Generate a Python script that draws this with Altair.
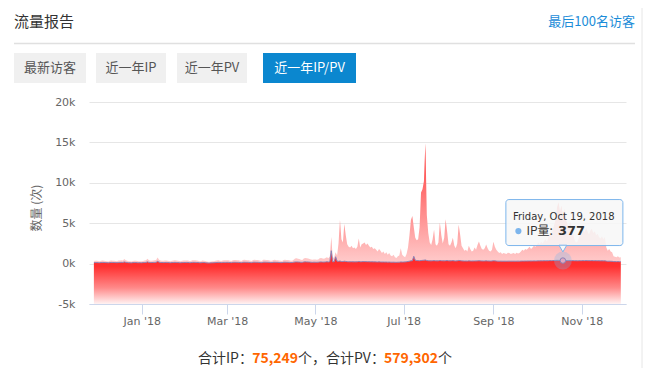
import altair as alt
import pandas as pd

# ---------------- data (daily, 2017-11-29 .. 2018-11-28) ----------------
pv_nov17 = [320, 350]
pv_dec17 = [340, 310, 280, 360, 390, 350, 330, 300, 270, 350, 380, 360, 340, 320, 300, 370,
            390, 410, 380, 560, 420, 350, 300, 280, 260, 330, 360, 340, 310, 290, 300]
pv_jan18 = [280, 330, 380, 420, 600, 410, 360, 350, 390, 400, 450, 750, 480, 380, 360, 340,
            370, 390, 360, 320, 300, 350, 380, 400, 370, 350, 310, 290, 340, 370, 380]
pv_feb18 = [390, 370, 330, 310, 400, 420, 410, 380, 360, 300, 290, 380, 360, 330, 250, 220,
            230, 260, 280, 300, 340, 380, 400, 360, 330, 390, 410, 400]
pv_mar18 = [420, 400, 350, 330, 430, 450, 440, 420, 400, 340, 320, 450, 470, 440, 430, 400,
            350, 330, 460, 480, 450, 440, 410, 350, 330, 470, 490, 460, 450, 420, 360]
pv_apr18 = [340, 450, 470, 430, 420, 380, 340, 330, 460, 480, 450, 440, 400, 360, 350, 480,
            620, 650, 600, 560, 480, 450, 640, 700, 660, 620, 580, 500, 470, 520]
pv_may18 = [500, 480, 520, 650, 700, 620, 600, 700, 800, 650, 900, 3300, 700, 800, 1400, 1000,
            2500, 5400, 3000, 2600, 4900, 3500, 2400, 2100, 2000, 2200, 1900, 2000, 1800, 2100, 3100]
pv_jun18 = [2000, 2400, 2500, 2600, 2300, 2500, 2200, 2000, 2100, 1800, 1900, 1700, 1500, 1800,
            1600, 1300, 1500, 1200, 1400, 1100, 1300, 1000, 900, 1100, 800, 700, 900, 1000, 1900, 1100]
pv_jul18 = [900, 800, 1200, 2000, 3500, 5400, 5900, 4500, 3200, 2900, 3000, 4500, 8800, 9200,
            10200, 14900, 6000, 3800, 2600, 2300, 3000, 4200, 2400, 2200, 2600, 5100, 3500, 2500,
            3200, 5500, 4000]
pv_aug18 = [2400, 2200, 2600, 3200, 2200, 1900, 2500, 4800, 3600, 2200, 1900, 1600, 1700, 1500,
            2200, 1800, 1500, 1600, 2000, 1700, 2300, 2750, 2200, 1800, 1700, 1900, 2350, 1900,
            1600, 1500, 1700]
pv_sep18 = [2700, 2100, 1700, 1500, 1300, 1400, 1200, 1300, 1250, 1200, 1350, 1300, 1200, 1250,
            1300, 1200, 1350, 1250, 1300, 1500, 1700, 1600, 1800, 1700, 1900, 2100, 1800, 2000,
            2200, 2100]
pv_oct18 = [2300, 2600, 2400, 2700, 2500, 2800, 3000, 2700, 3300, 3800, 3500, 4200, 4800, 5500,
            7000, 7600, 6500, 7200, 6000, 6800, 5500, 5000, 4200, 5200, 4500, 3800, 3000, 2600,
            2700, 3200, 3600]
pv_nov18 = [3800, 4200, 3900, 4400, 4000, 3600, 4100, 4300, 3800, 4000, 3500, 3700, 3300, 3100,
            3400, 3000, 3300, 2000, 1600, 1800, 1500, 1400, 900, 850, 800, 900, 750, 800]

ip_nov17 = [120, 130]
ip_dec17 = [130, 120, 110, 135, 145, 140, 130, 120, 105, 130, 145, 140, 135, 125, 115, 140,
            150, 155, 145, 210, 160, 135, 115, 105, 95, 125, 140, 130, 120, 110, 115]
ip_jan18 = [105, 125, 140, 150, 220, 150, 135, 130, 145, 150, 165, 280, 180, 140, 135, 125,
            140, 145, 135, 120, 110, 130, 140, 150, 140, 130, 115, 110, 125, 140, 140]
ip_feb18 = [145, 140, 120, 115, 150, 155, 150, 140, 135, 110, 105, 140, 135, 120, 90, 80,
            85, 95, 105, 110, 125, 140, 150, 135, 120, 145, 150, 150]
ip_mar18 = [155, 150, 130, 120, 160, 165, 160, 155, 150, 125, 120, 165, 170, 160, 160, 150,
            130, 120, 170, 175, 165, 160, 150, 130, 120, 170, 180, 170, 165, 155, 135]
ip_apr18 = [125, 165, 170, 160, 155, 140, 125, 120, 170, 175, 165, 160, 150, 130, 130, 175,
            200, 210, 195, 185, 165, 160, 205, 220, 210, 200, 190, 170, 160, 175]
ip_may18 = [170, 165, 175, 200, 210, 190, 185, 210, 230, 200, 250, 1600, 220, 240, 850, 300,
            280, 320, 260, 250, 300, 270, 240, 230, 225, 235, 220, 225, 215, 230, 260]
ip_jun18 = [230, 240, 245, 250, 235, 240, 230, 225, 230, 215, 220, 210, 200, 215, 205, 190,
            200, 185, 195, 180, 190, 175, 170, 180, 165, 160, 170, 175, 210, 190]
ip_jul18 = [200, 210, 230, 260, 300, 340, 360, 900, 420, 380, 370, 360, 380, 400, 420, 450,
            380, 360, 350, 340, 360, 370, 350, 340, 350, 380, 360, 350, 340, 360, 380]
ip_aug18 = [350, 340, 355, 370, 340, 330, 345, 390, 370, 340, 330, 320, 325, 315, 340, 330,
            320, 325, 335, 330, 340, 355, 340, 330, 325, 330, 345, 330, 320, 315, 325]
ip_sep18 = [360, 340, 320, 305, 300, 305, 295, 300, 298, 295, 300, 305, 298, 300, 302, 296,
            300, 305, 300, 310, 315, 312, 320, 318, 325, 330, 322, 328, 335, 332]
ip_oct18 = [335, 345, 340, 350, 345, 355, 360, 350, 365, 370, 365, 375, 380, 390, 400, 395,
            405, 390, 377, 395, 385, 380, 375, 380, 370, 365, 360, 355, 350, 355, 360]
ip_nov18 = [365, 370, 365, 375, 370, 360, 365, 370, 360, 365, 355, 360, 350, 345, 350, 340,
            345, 310, 290, 300, 285, 280, 250, 245, 240, 250, 235, 240]

y_ticks = [-5000, 0, 5000, 10000, 15000, 20000]
tabs = ["最新访客", "近一年IP", "近一年PV", "近一年IP/PV"]
tooltip_date = "2018-10-19"
tooltip_header = "Friday, Oct 19, 2018"
tooltip_ip = 377
total_ip = "75,249"
total_pv = "579,302"

pv = (pv_nov17 + pv_dec17 + pv_jan18 + pv_feb18 + pv_mar18 + pv_apr18 + pv_may18 +
      pv_jun18 + pv_jul18 + pv_aug18 + pv_sep18 + pv_oct18 + pv_nov18)
ip = (ip_nov17 + ip_dec17 + ip_jan18 + ip_feb18 + ip_mar18 + ip_apr18 + ip_may18 +
      ip_jun18 + ip_jul18 + ip_aug18 + ip_sep18 + ip_oct18 + ip_nov18)
dates = pd.date_range("2017-11-29", periods=len(pv), freq="D").strftime("%Y-%m-%d")
df = pd.DataFrame({"date": dates, "pv": pv, "ip": ip})
tip_df = pd.DataFrame({"date": [tooltip_date], "ip": [tooltip_ip]})

CJK = "Noto Sans CJK SC"
LAT = "DejaVu Sans"

xscale = alt.Scale(type="utc", domain=[
    alt.DateTime(year=2017, month=11, date=25, hours=14, minutes=45, utc=True),
    alt.DateTime(year=2018, month=12, date=1, hours=14, minutes=25, utc=True)])
xaxis = alt.Axis(
    values=[alt.DateTime(year=2018, month=m, date=1, utc=True) for m in (1, 3, 5, 7, 9, 11)],
    format="%b '%y", title=None, grid=False, labelColor="#666666", labelFontSize=11,
    labelFont=LAT, domainColor="#ccd6eb", tickColor="#ccd6eb", tickSize=10,
    labelPadding=1, labelFlush=False, labelOverlap=False, zindex=1)
yscale = alt.Scale(domain=[-5000, 20000], nice=False, zero=False)
yaxis = alt.Axis(values=y_ticks, labelExpr="datum.value / 1000 + 'k'", title=None,
                 domain=False, ticks=False, gridColor="#e6e6e6", labelColor="#666666",
                 labelFontSize=11, labelFont=LAT, labelPadding=14)

X = alt.X("date:T", scale=xscale, axis=xaxis, title=None)

base = alt.Chart(df)

pv_area = base.mark_area(
    interpolate="linear",
    color=alt.Gradient(gradient="linear", x1=1, x2=1, y1=0, y2=1, stops=[
        alt.GradientStop(color="#ff3535", offset=0),
        alt.GradientStop(color="#ffffff", offset=1)])
).encode(x=X, y=alt.Y("pv:Q", scale=yscale, axis=yaxis, title=None), y2=alt.datum(-5000))

ip_area = base.mark_area(
    interpolate="linear",
    color=alt.Gradient(gradient="linear", x1=1, x2=1, y1=0, y2=1, stops=[
        alt.GradientStop(color="#ff2020", offset=0),
        alt.GradientStop(color="#ff3030", offset=0.3),
        alt.GradientStop(color="#ff8a8a", offset=0.7),
        alt.GradientStop(color="#fff2f2", offset=1)])
).encode(x=X, y=alt.Y("ip:Q", scale=yscale, title=None), y2=alt.datum(-5000))

ip_line = base.mark_line(color="#8a84b8", strokeWidth=1).encode(
    x=X, y=alt.Y("ip:Q", scale=yscale, title=None))

tip = alt.Chart(tip_df)
TY = alt.Y("ip:Q", scale=yscale, title=None)
halo = tip.mark_circle(size=320, color="#7cb5ec", opacity=0.3).encode(x=X, y=TY)
marker = tip.mark_point(filled=True, size=30, fill="#e0a8c0", stroke="#8a84b8",
                        strokeWidth=1, opacity=1).encode(x=X, y=TY)
tip_box = tip.mark_rect(xOffset=-57, x2Offset=60, yOffset=-61, y2Offset=-15,
                        fill="#f7f7f7", fillOpacity=0.88, stroke="#7cb5ec",
                        strokeWidth=1, cornerRadius=3).encode(
    x=X, x2="date:T", y=TY, y2="ip:Q")
tip_ptr = tip.mark_point(shape="triangle-down", filled=True, size=60, fill="#f7f7f7",
                         stroke="#7cb5ec", strokeWidth=1, opacity=1, yOffset=-12).encode(x=X, y=TY)
tip_head = tip.mark_text(text=tooltip_header, align="left", baseline="middle", dx=-50, dy=-44,
                         fontSize=10, font=LAT, color="#333333").encode(x=X, y=TY)
tip_dot = tip.mark_circle(size=38, color="#7cb5ec", opacity=1, xOffset=-44.5,
                          yOffset=-29.5).encode(x=X, y=TY)
tip_lab = tip.mark_text(text="IP量:", align="left", baseline="middle", dx=-36.5, dy=-29.5,
                        fontSize=12, font=CJK, color="#333333").encode(x=X, y=TY)
tip_val = tip.mark_text(align="left", baseline="middle", dx=-5, dy=-29.5, fontSize=13,
                        fontWeight="bold", font=LAT, color="#333333").encode(
    x=X, y=TY, text="ip:Q")

one = pd.DataFrame({"k": [0]})


def txt(s, x, y, size=13, color="#333333", align="left", weight="normal", font=CJK, angle=0):
    return alt.Chart(one).mark_text(text=s, align=align, baseline="middle", fontSize=size,
                                    color=color, fontWeight=weight, font=font,
                                    angle=angle).encode(x=alt.value(x), y=alt.value(y))


def box(x1, x2, y1, y2, fill):
    return alt.Chart(one).mark_rect(fill=fill).encode(
        x=alt.value(x1), x2=alt.value(x2), y=alt.value(y1), y2=alt.value(y2))


def rule(x1, x2, y1, y2, color, w=1):
    return alt.Chart(one).mark_rule(color=color, strokeWidth=w).encode(
        x=alt.value(x1), x2=alt.value(x2), y=alt.value(y1), y2=alt.value(y2))


FY = 257
decor = [
    txt("流量报告", -75, -80, size=15, color="#333333"),
    txt("最后100名访客", 546, -80, size=13, color="#1a8cd8", align="right"),
    rule(-75, 546, -58.5, -58.5, "#e0e0e0", 1.5),
    box(-75, -3, -49, -19, "#f0f0f0"),
    box(7, 77, -49, -19, "#f0f0f0"),
    box(88, 158, -49, -19, "#f0f0f0"),
    box(174, 267, -49, -19, "#0b87cf"),
    txt(tabs[0], -39, -34, size=13, color="#555555", align="center"),
    txt(tabs[1], 42, -34, size=13, color="#555555", align="center"),
    txt(tabs[2], 123, -34, size=13, color="#555555", align="center"),
    txt(tabs[3], 220.5, -34, size=13, color="#ffffff", align="center"),
    txt("数量 (次)", -52, 106, size=12, color="#666666", align="center", angle=270),
    txt("合计IP：", 109, FY, size=14, color="#333333"),
    txt(total_ip, 209, FY, size=14, color="#ff6600", weight="bold", align="right"),
    txt("个，合计PV：", 209, FY, size=14, color="#333333"),
    txt(total_pv, 349, FY, size=14, color="#ff6600", weight="bold", align="right"),
    txt("个", 349, FY, size=14, color="#333333"),
    rule(553, 553, -94, 266, "#e6e6e6", 1),
]

chart = alt.layer(
    pv_area, ip_area, ip_line, halo, marker, tip_box, tip_ptr, tip_head, tip_dot,
    tip_lab, tip_val, *decor
).properties(
    width=537, height=202,
    autosize=alt.AutoSizeParams(type="none"),
    padding={"left": 81, "top": 94, "right": 17, "bottom": 64},
    background="white",
).configure_view(stroke=None)

chart.save("out.html", embed_options={"renderer": "svg", "actions": False})
